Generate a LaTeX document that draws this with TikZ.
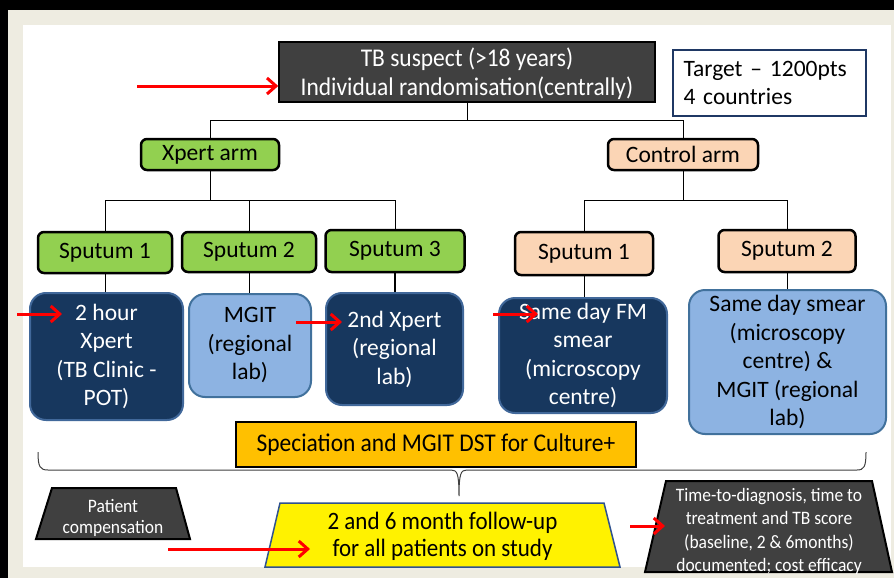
\documentclass[tikz,border=0pt]{standalone}
\usepackage{fontspec}
\setmainfont{Carlito}
\newfontfamily\narrowfont[FakeStretch=0.92]{Carlito}
\usetikzlibrary{arrows.meta}
\definecolor{beige}{HTML}{EEECE1}
\definecolor{dgray}{HTML}{404040}
\definecolor{xgreen}{HTML}{92D050}
\definecolor{peach}{HTML}{FBD5B5}
\definecolor{navy}{HTML}{17375E}
\definecolor{navyline}{HTML}{41689A}
\definecolor{lblue}{HTML}{8DB3E2}
\definecolor{lblueline}{HTML}{41719C}
\definecolor{orangeb}{HTML}{FFC000}
\definecolor{tgtline}{HTML}{1F3864}
\definecolor{yline}{HTML}{2F528F}
\begin{document}
\begin{tikzpicture}[x=1pt,y=-1pt,
  mainfs/.style={font=\fontsize{23.5}{28.5}\selectfont},
  base/.style={align=center, inner sep=0pt, mainfs},
  armbox/.style={base, draw=black, line width=2.5pt, rounded corners=6pt},
  navybox/.style={base, draw=navyline, line width=2pt, fill=navy, text=white, rounded corners=16pt},
  lbluebox/.style={base, draw=lblueline, line width=2pt, fill=lblue, text=black, rounded corners=16pt},
  conn/.style={draw=black, line width=1pt},
  redarrow/.style={draw=red, line width=3pt, -{Straight Barb[length=9pt,width=16pt]}},
  darktrap/.style={draw=black, line width=2pt, fill=dgray, line join=miter}
]
\useasboundingbox (0,0) rectangle (894,578);
\fill[black] (0,0) rectangle (894,578);
\fill[beige] (8,10) rectangle (894,578);
\fill[white] (23,25) rectangle (891,567);

\coordinate (j0) at (467,120);
\coordinate (jx) at (210,200);
\coordinate (jc) at (683,200);

% top
\node[base, draw=black, line width=1.5pt, fill=dgray,
  minimum width=376, minimum height=60] (top) at (467,72) {};
\node[base, text=white, font=\narrowfont\fontsize{25.5}{29}\selectfont] (toptext) at (467,74)
  {TB suspect (>18 years)\\Individual randomisation(centrally)};
\node[base, draw=tgtline, line width=2pt, fill=white, align=left,
  minimum width=193, minimum height=66, text width=172] (target) at (769.5,83)
  {Target -- 1200pts\\4 countries};

% arms
\node[armbox, fill=xgreen, minimum width=138, minimum height=31] (xarm) at (210,154.5) {Xpert arm};
\node[armbox, fill=peach, minimum width=150, minimum height=31] (carm) at (683,154.5) {Control arm};

% sputum
\node[armbox, fill=xgreen, minimum width=134, minimum height=41] (xs1) at (105,252.5) {Sputum 1};
\node[armbox, fill=xgreen, minimum width=134, minimum height=40] (xs2) at (249,252) {Sputum 2};
\node[armbox, fill=xgreen, minimum width=139, minimum height=42] (xs3) at (395,251) {Sputum 3};
\node[armbox, fill=peach, minimum width=138, minimum height=43] (cs1) at (584,253.5) {Sputum 1};
\node[armbox, fill=peach, minimum width=137, minimum height=42] (cs2) at (787,251) {Sputum 2};

% lab boxes
\node[navybox, minimum width=153, minimum height=127] (b1) at (106.5,356.5) {2 hour\\Xpert\\(TB Clinic -\\POT)};
\node[lbluebox, minimum width=122, minimum height=103] (b2) at (250,345.5) {MGIT\\(regional\\lab)};
\node[navybox, minimum width=137, minimum height=112] (b3) at (394.5,349) {2nd Xpert\\(regional\\lab)};
\node[navybox, minimum width=168, minimum height=115] (b4) at (583,355.5) {Same day FM\\smear\\(microscopy\\centre)};
\node[lbluebox, minimum width=197, minimum height=144] (b5) at (787.5,362) {Same day smear\\(microscopy\\centre) \&\\MGIT (regional\\lab)};

% speciation
\node[base, draw=black, line width=2.5pt, fill=orangeb, minimum width=400, minimum height=45,
  font=\narrowfont\fontsize{25.5}{29}\selectfont] (spec) at (436,444.5) {Speciation and MGIT DST for Culture+};

% brace
\draw[dgray, line width=1pt] (38,452) .. controls (38,467) and (40,470) .. (48,470)
  -- (451,470) .. controls (457,470) and (459,473) .. (459,496)
  .. controls (459,473) and (461,470) .. (467,470) -- (857,470)
  .. controls (864,470) and (866,467) .. (866,452);

% bottom trapezia
\draw[darktrap] (36,539) -- (52,488) -- (176,488) -- (190,539) -- cycle;
\node[base, text=white, font=\narrowfont\fontsize{19}{21}\selectfont] (pc) at (113,517.5)
  {Patient\\compensation};
\draw[draw=yline, line width=1.5pt, fill=yellow] (265,567) -- (280,503) -- (604,503) -- (620,567) -- cycle;
\node[base, text=black, font=\narrowfont\fontsize{25}{27}\selectfont] (fu) at (442.5,536)
  {2 and 6 month follow-up\\for all patients on study};
\draw[darktrap] (645,572) -- (666,481) -- (872,481) -- (892,572) -- cycle;
\node[base, text=white, font=\narrowfont\fontsize{19}{23.5}\selectfont] (ttd) at (769,531.5)
  {Time-to-diagnosis, time to\\treatment and TB score\\(baseline, 2 \& 6months)\\documented; cost efficacy};

% tree connectors
\draw[conn] (top.south) -- (j0);
\draw[conn] (j0) -| (xarm.north);
\draw[conn] (j0) -| (carm.north);
\draw[conn] (xarm.south) -- (jx);
\draw[conn] (jx) -| (xs1.north);
\draw[conn] (jx) -| (xs2.north);
\draw[conn] (jx) -| (xs3.north);
\draw[conn] (carm.south) -- (jc);
\draw[conn] (jc) -| (cs1.north);
\draw[conn] (jc) -| (cs2.north);
\draw[conn] (xs1.south) -- (xs1.south |- b1.north);
\draw[conn] (xs2.south) -- (xs2.south |- b2.north);
\draw[conn, line width=1.5pt] (xs3.south) -- (xs3.south |- b3.north);
\draw[conn] (cs1.south) -- (cs1.south |- b4.north);
\draw[conn] (cs2.south) -- (cs2.south |- b5.north);

% red arrows
\coordinate (a1s) at (137,86);
\coordinate (a2s) at (17,314);  \coordinate (a2e) at (62,314);
\coordinate (a3s) at (296,322); \coordinate (a3e) at (342,322);
\coordinate (a4s) at (493,314); \coordinate (a4e) at (538,314);
\coordinate (a5s) at (168,549); \coordinate (a5e) at (310,549);
\coordinate (a6s) at (630,526); \coordinate (a6e) at (665,526);
\draw[redarrow] (a1s) -- (top.west |- a1s);
\draw[redarrow] (a2s) -- (a2e);
\draw[redarrow] (a3s) -- (a3e);
\draw[redarrow] (a4s) -- (a4e);
\draw[redarrow] (a5s) -- (a5e);
\draw[redarrow] (a6s) -- (a6e);
\end{tikzpicture}
\end{document}
